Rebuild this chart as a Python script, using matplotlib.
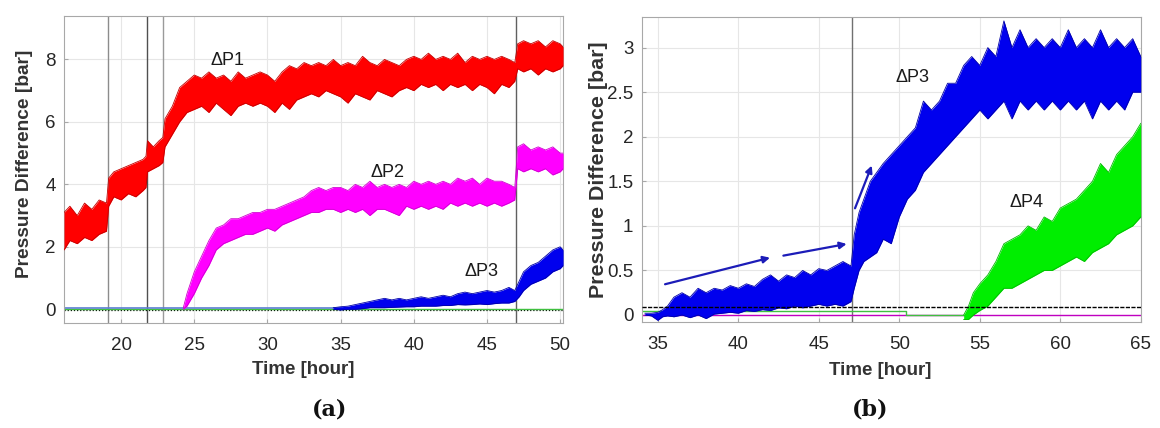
import matplotlib
matplotlib.use("Agg")
import matplotlib.pyplot as plt

plt.rcParams['font.family'] = ['Liberation Sans', 'DejaVu Sans']

# ---------------- Panel (a) data ----------------
xlim_a = (16.1, 50.2)
ylim_a = (-0.44, 9.39)
xticks_a = [20, 25, 30, 35, 40, 45, 50]
yticks_a = [0, 2, 4, 6, 8]
events_a = [19.12, 21.74, 22.85, 46.95]

t_p1 = [16.1, 16.5, 17.0, 17.5, 18.0, 18.5, 19.0, 19.15, 19.5, 20.0, 20.5, 21.0, 21.5, 21.7,
        21.8, 22.2, 22.6, 22.85, 23.0, 23.5, 24.0, 24.5, 25.0, 25.5, 26.0, 26.5, 27.0, 27.5,
        28.0, 28.5, 29.0, 29.5, 30.0, 30.5, 31.0, 31.5, 32.0, 32.5, 33.0, 33.5, 34.0, 34.5,
        35.0, 35.5, 36.0, 36.5, 37.0, 37.5, 38.0, 38.5, 39.0, 39.5, 40.0, 40.5, 41.0, 41.5,
        42.0, 42.5, 43.0, 43.5, 44.0, 44.5, 45.0, 45.5, 46.0, 46.5, 46.9, 47.1, 47.5, 48.0,
        48.5, 49.0, 49.5, 50.0, 50.2]
lo_p1 = [1.9, 2.2, 2.1, 2.3, 2.2, 2.4, 2.5, 3.3, 3.6, 3.5, 3.7, 3.6, 3.8, 3.9,
         4.4, 4.5, 4.6, 4.7, 5.2, 5.6, 6.0, 6.3, 6.4, 6.5, 6.3, 6.6, 6.4, 6.2,
         6.5, 6.6, 6.5, 6.6, 6.5, 6.3, 6.6, 6.4, 6.7, 6.8, 6.9, 6.8, 7.0, 6.9,
         6.8, 6.6, 6.9, 6.8, 6.7, 7.0, 6.9, 6.8, 7.0, 7.1, 7.0, 7.2, 7.1, 7.2,
         7.0, 7.2, 7.1, 7.2, 7.0, 7.2, 7.1, 6.9, 7.2, 7.1, 7.3, 7.7, 7.6, 7.7,
         7.5, 7.7, 7.6, 7.7, 7.8]
hi_p1 = [3.1, 3.3, 3.0, 3.4, 3.2, 3.5, 3.4, 4.2, 4.4, 4.5, 4.6, 4.7, 4.8, 4.9,
         5.4, 5.2, 5.4, 5.5, 6.1, 6.5, 7.1, 7.3, 7.5, 7.4, 7.6, 7.4, 7.5, 7.3,
         7.6, 7.4, 7.5, 7.6, 7.5, 7.3, 7.6, 7.8, 7.7, 7.9, 7.8, 7.9, 7.8, 8.0,
         7.8, 7.9, 7.8, 8.1, 7.9, 7.8, 8.0, 7.9, 7.8, 8.0, 8.1, 8.0, 8.2, 8.0,
         8.1, 8.0, 8.2, 7.9, 8.1, 8.0, 8.1, 8.0, 8.1, 8.0, 7.9, 8.5, 8.6, 8.5,
         8.6, 8.4, 8.6, 8.5, 8.4]

t_p2 = [24.25, 24.5, 25.0, 25.5, 26.0, 26.5, 27.0, 27.5, 28.0, 28.5, 29.0, 29.5, 30.0, 30.5,
        31.0, 31.5, 32.0, 32.5, 33.0, 33.5, 34.0, 34.5, 35.0, 35.5, 36.0, 36.5, 37.0, 37.5,
        38.0, 38.5, 39.0, 39.5, 40.0, 40.5, 41.0, 41.5, 42.0, 42.5, 43.0, 43.5, 44.0, 44.5,
        45.0, 45.5, 46.0, 46.5, 46.9, 47.1, 47.5, 48.0, 48.5, 49.0, 49.5, 50.0, 50.2]
lo_p2 = [0.0, 0.1, 0.5, 1.0, 1.4, 1.9, 2.1, 2.2, 2.3, 2.4, 2.4, 2.5, 2.6, 2.5,
         2.7, 2.8, 2.9, 3.0, 3.1, 3.1, 3.2, 3.2, 3.1, 3.2, 3.1, 3.2, 3.0, 3.2,
         3.2, 3.1, 3.0, 3.3, 3.2, 3.3, 3.2, 3.3, 3.2, 3.4, 3.3, 3.4, 3.3, 3.4,
         3.3, 3.4, 3.3, 3.4, 3.5, 4.5, 4.4, 4.5, 4.4, 4.5, 4.3, 4.4, 4.5]
hi_p2 = [0.05, 0.5, 1.2, 1.7, 2.2, 2.6, 2.7, 2.9, 2.9, 3.0, 3.1, 3.1, 3.2, 3.2,
         3.3, 3.4, 3.5, 3.6, 3.8, 3.9, 3.8, 3.9, 3.9, 3.8, 4.0, 3.9, 4.1, 3.9,
         4.0, 3.9, 4.0, 3.9, 4.1, 4.0, 4.1, 4.0, 4.1, 4.0, 4.2, 4.1, 4.2, 4.0,
         4.2, 4.1, 4.1, 4.0, 3.9, 5.2, 5.3, 5.1, 5.2, 5.1, 5.2, 5.0, 5.0]

t_p3a = [34.5, 35.0, 35.5, 36.0, 36.5, 37.0, 37.5, 38.0, 38.5, 39.0, 39.5, 40.0, 40.5, 41.0,
         41.5, 42.0, 42.5, 43.0, 43.5, 44.0, 44.5, 45.0, 45.5, 46.0, 46.5, 46.9, 47.2, 47.5,
         48.0, 48.5, 49.0, 49.5, 50.0, 50.2]
lo_p3a = [0.0, -0.02, 0.0, 0.0, 0.02, 0.05, 0.05, 0.05, 0.06, 0.07, 0.08, 0.08, 0.1, 0.1,
          0.1, 0.12, 0.12, 0.15, 0.14, 0.15, 0.17, 0.15, 0.18, 0.2, 0.2, 0.25, 0.4, 0.6,
          0.8, 0.9, 1.0, 1.2, 1.3, 1.4]
hi_p3a = [0.05, 0.08, 0.1, 0.15, 0.2, 0.25, 0.3, 0.35, 0.3, 0.35, 0.3, 0.35, 0.4, 0.35,
          0.4, 0.45, 0.4, 0.5, 0.55, 0.5, 0.55, 0.6, 0.55, 0.6, 0.7, 0.6, 0.9, 1.2,
          1.4, 1.5, 1.7, 1.9, 2.0, 1.9]

# flat baseline traces in panel (a)
base_a_blue_t = [16.1, 35.0]
base_a_blue_v = [0.04, 0.04]
base_a_green_t = [16.1, 50.2]
base_a_green_v = [0.0, 0.0]
base_a_black_t = [16.1, 50.2]
base_a_black_v = [-0.02, -0.02]

# ---------------- Panel (b) data ----------------
xlim_b = (34.0, 65.0)
ylim_b = (-0.075, 3.34)
xticks_b = [35, 40, 45, 50, 55, 60, 65]
yticks_b = [0, 0.5, 1, 1.5, 2, 2.5, 3]
ytick_labels_b = ['0', '0.5', '1', '1.5', '2', '2.5', '3']
events_b = [47.06]

t_p3b = [34.2, 34.6, 35.0, 35.3, 35.6, 36.0, 36.5, 37.0, 37.5, 38.0, 38.5, 39.0, 39.5, 40.0,
         40.5, 41.0, 41.5, 42.0, 42.5, 43.0, 43.5, 44.0, 44.5, 45.0, 45.5, 46.0, 46.5, 47.0,
         47.2, 47.5, 47.8, 48.2, 48.6, 49.0, 49.5, 50.0, 50.5, 51.0, 51.5, 52.0, 52.5, 53.0,
         53.5, 54.0, 54.5, 55.0, 55.5, 56.0, 56.5, 57.0, 57.5, 58.0, 58.5, 59.0, 59.5, 60.0,
         60.5, 61.0, 61.5, 62.0, 62.5, 63.0, 63.5, 64.0, 64.5, 65.0]
lo_p3b = [0.0, -0.01, -0.06, -0.02, -0.01, -0.02, 0.0, -0.03, 0.0, -0.04, 0.01, 0.02, 0.03, 0.02,
          0.05, 0.04, 0.06, 0.05, 0.08, 0.07, 0.1, 0.08, 0.1, 0.12, 0.1, 0.12, 0.1, 0.15,
          0.3, 0.5, 0.6, 0.65, 0.7, 0.85, 0.8, 1.1, 1.3, 1.4, 1.6, 1.7, 1.8, 1.9,
          2.0, 2.1, 2.2, 2.3, 2.2, 2.3, 2.4, 2.2, 2.4, 2.3, 2.4, 2.3, 2.4, 2.3,
          2.4, 2.3, 2.4, 2.2, 2.4, 2.3, 2.4, 2.3, 2.5, 2.5]
hi_p3b = [0.02, 0.02, 0.03, 0.06, 0.1, 0.2, 0.25, 0.2, 0.3, 0.25, 0.3, 0.28, 0.33, 0.3,
          0.35, 0.32, 0.4, 0.45, 0.38, 0.45, 0.42, 0.5, 0.45, 0.52, 0.5, 0.55, 0.6, 0.55,
          0.9, 1.15, 1.3, 1.5, 1.6, 1.7, 1.8, 1.9, 2.0, 2.1, 2.4, 2.3, 2.4, 2.6,
          2.6, 2.8, 2.9, 2.8, 3.0, 2.9, 3.3, 3.0, 3.2, 3.0, 3.1, 3.0, 3.1, 3.0,
          3.2, 3.0, 3.1, 3.0, 3.2, 3.0, 3.1, 3.0, 3.1, 2.9]

t_p4 = [54.0, 54.3, 54.6, 55.0, 55.5, 56.0, 56.5, 57.0, 57.5, 58.0, 58.5, 59.0, 59.5, 60.0,
        60.5, 61.0, 61.5, 62.0, 62.5, 63.0, 63.5, 64.0, 64.5, 65.0]
lo_p4 = [-0.05, -0.05, 0.0, 0.05, 0.1, 0.2, 0.3, 0.3, 0.35, 0.4, 0.45, 0.5, 0.5, 0.55,
         0.6, 0.65, 0.6, 0.7, 0.75, 0.8, 0.9, 0.95, 1.0, 1.1]
hi_p4 = [0.0, 0.1, 0.25, 0.35, 0.45, 0.6, 0.8, 0.85, 0.9, 1.0, 0.95, 1.1, 1.05, 1.2,
         1.25, 1.3, 1.4, 1.5, 1.7, 1.6, 1.8, 1.9, 2.0, 2.15]

base_b_black_t = [34.0, 65.0]
base_b_black_v = [0.085, 0.085]
base_b_mag_t = [34.0, 65.0]
base_b_mag_v = [0.0, 0.0]
base_b_green_t = [34.0, 50.4, 50.4, 54.0]
base_b_green_v = [0.04, 0.04, 0.0, 0.0]

arrows_b = [((35.45, 0.345), (41.97, 0.643)),
            ((42.8, 0.666), (46.73, 0.797)),
            ((47.25, 1.197), (48.29, 1.676))]

labels_a = [("\u0394P1", 27.3, 7.98), ("\u0394P2", 38.2, 4.39), ("\u0394P3", 44.6, 1.2)]
labels_b = [("\u0394P3", 50.8, 2.67), ("\u0394P4", 57.9, 1.26)]

# ---------------- Drawing ----------------
RED, MAG, BLUE, GREEN = '#ff0000', '#ff00ff', '#0000ee', '#00ee00'
EDGE = {RED: '#c40000', MAG: '#d000d0', BLUE: '#0000a8', GREEN: '#00bb00'}

fig = plt.figure(figsize=(11.6, 4.28), dpi=100)
ax_a = fig.add_axes([0.0552, 0.2453, 0.4302, 0.7173])
ax_b = fig.add_axes([0.5532, 0.2484, 0.4302, 0.7112])


def band(ax, t, lo, hi, c):
    ax.fill_between(t, lo, hi, color=c, lw=0, zorder=3)
    ax.plot(t, hi, color=EDGE[c], lw=0.6, zorder=3)
    ax.plot(t, lo, color=EDGE[c], lw=0.6, zorder=3)


def style(ax, xlim, ylim, xticks, yticks):
    ax.set_xlim(*xlim)
    ax.set_ylim(*ylim)
    ax.set_xticks(xticks)
    ax.set_yticks(yticks)
    ax.grid(True, color='#e6e6e6', lw=0.8, zorder=0)
    ax.set_axisbelow(True)
    for s in ax.spines.values():
        s.set_color('#a8a8a8')
        s.set_linewidth(0.8)
    ax.tick_params(direction='in', length=3, color='#a8a8a8', labelsize=13.5,
                   labelcolor='#262626')
    ax.tick_params(axis='x', pad=10)
    ax.tick_params(axis='y', pad=6)


# panel (a)
style(ax_a, xlim_a, ylim_a, xticks_a, yticks_a)
ev_colors = ['#8c8c8c', '#505050', '#9a9a9a', '#606060']
for x, c in zip(events_a, ev_colors):
    ax_a.axvline(x, color=c, lw=1.0, zorder=2)
ax_a.plot(base_a_black_t, base_a_black_v, color='k', lw=0.9, ls=(0, (1, 1.5)), zorder=2)
ax_a.plot(base_a_green_t, base_a_green_v, color='#40c040', lw=1.0, zorder=2)
ax_a.plot(base_a_blue_t, base_a_blue_v, color='#5a7fd0', lw=1.2, zorder=2)
band(ax_a, t_p1, lo_p1, hi_p1, RED)
band(ax_a, t_p2, lo_p2, hi_p2, MAG)
band(ax_a, t_p3a, lo_p3a, hi_p3a, BLUE)
for txt, x, y in labels_a:
    ax_a.text(x, y, txt, fontsize=13, color='#1a1a1a', ha='center', va='center', zorder=5)
ax_a.set_xlabel('Time [hour]', fontsize=13.5, fontweight='bold', color='#333333')
ax_a.set_ylabel('Pressure Difference [bar]', fontsize=13.8, fontweight='bold', color='#333333')
ax_a.xaxis.set_label_coords(0.479, -0.125)
ax_a.yaxis.set_label_coords(-0.062, 0.518)

# panel (b)
style(ax_b, xlim_b, ylim_b, xticks_b, yticks_b)
ax_b.set_yticklabels(ytick_labels_b)
for x in events_b:
    ax_b.axvline(x, color='#707070', lw=1.0, zorder=2)
ax_b.plot(base_b_mag_t, base_b_mag_v, color='#c000c0', lw=1.0, zorder=2)
ax_b.plot(base_b_green_t, base_b_green_v, color='#40c040', lw=1.0, zorder=2)
band(ax_b, t_p3b, lo_p3b, hi_p3b, BLUE)
band(ax_b, t_p4, lo_p4, hi_p4, GREEN)
ax_b.plot(base_b_black_t, base_b_black_v, color='k', lw=1.0, ls=(0, (3, 1)), zorder=4)
for (x0, y0), (x1, y1) in arrows_b:
    ax_b.annotate('', xy=(x1, y1), xytext=(x0, y0),
                  arrowprops=dict(arrowstyle='-|>', color='#1c1cb8', lw=1.6,
                                  mutation_scale=10, shrinkA=0, shrinkB=0), zorder=6)
for txt, x, y in labels_b:
    ax_b.text(x, y, txt, fontsize=13, color='#1a1a1a', ha='center', va='center', zorder=5)
ax_b.set_xlabel('Time [hour]', fontsize=13.5, fontweight='bold', color='#333333')
ax_b.set_ylabel('Pressure Difference [bar]', fontsize=15.4, fontweight='bold', color='#333333')
ax_b.xaxis.set_label_coords(0.4776, -0.132)
ax_b.yaxis.set_label_coords(-0.068, 0.5)

fig.text(0.284, 0.044, '(a)', fontsize=16, fontweight='bold', family='DejaVu Serif',
         ha='center', va='center', color='#111111')
fig.text(0.750, 0.044, '(b)', fontsize=16, fontweight='bold', family='DejaVu Serif',
         ha='center', va='center', color='#111111')

fig.savefig('out.png', dpi=100)
